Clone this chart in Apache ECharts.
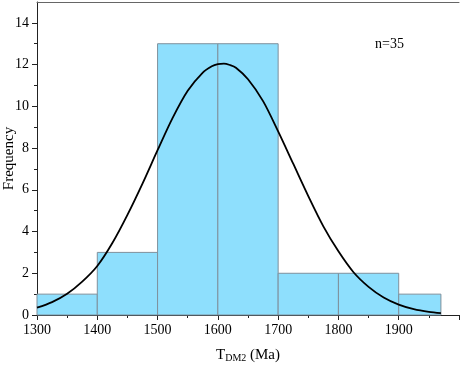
<!DOCTYPE html>
<html>
<head>
<meta charset="utf-8">
<script src="https://cdn.jsdelivr.net/npm/echarts@6/dist/echarts.min.js"></script>
<style>html,body{margin:0;padding:0;background:#fff}#c{width:460px;height:366px}</style>
</head>
<body>
<div id="c"></div>
<script>
// Histogram bins (Ma) and counts
const binStart = [1300, 1400, 1500, 1600, 1700, 1800, 1900];
const binEnd   = [1400, 1500, 1600, 1700, 1800, 1900, 1970];
const counts   = [1, 3, 13, 13, 2, 2, 1];
// Fitted curve
const curveX = [1300,1325,1350,1375,1400,1425,1450,1475,1500,1525,1550,1575,1590,1600,1610,1620,1630,1650,1675,1700,1725,1750,1775,1800,1825,1850,1875,1900,1925,1950,1970];
const curveY = [0.35,0.62,1.02,1.6,2.35,3.45,4.8,6.3,7.9,9.45,10.75,11.62,11.92,12.02,12.05,11.98,11.85,11.3,10.25,8.8,7.25,5.7,4.25,3.05,2.05,1.35,0.84,0.5,0.28,0.15,0.09];
const xTicks = [1300, 1400, 1500, 1600, 1700, 1800, 1900];
const yTicks = [0, 2, 4, 6, 8, 10, 12, 14];
const annotation = 'n=35';

const FONT = "'Liberation Serif','Times New Roman',serif";
const chart = echarts.init(document.getElementById('c'), null, {renderer: 'canvas'});

const histData = binStart.map((s, i) => [s, binEnd[i], counts[i]]);
const curveData = curveX.map((x, i) => [x, curveY[i]]);

chart.setOption({
  animation: false,
  backgroundColor: '#fff',
  title: {
    text: annotation, left: 370, top: 32,
    textStyle: {fontFamily: FONT, fontSize: 14, fontWeight: 'normal', color: '#000'}
  },
  grid: [
    {left: 37, right: 1, top: 2, bottom: 51, containLabel: false, outerBoundsMode: 'none'},
    {left: 37, right: 1, top: 22.87, bottom: 51, containLabel: false, outerBoundsMode: 'none'}
  ],
  xAxis: [
    {
      type: 'value', gridIndex: 0, min: 1300, max: 2000, interval: 100, position: 'bottom',
      axisLine: {show: true, lineStyle: {color: '#222', width: 1}},
      axisTick: {show: true, inside: false, length: 5, lineStyle: {color: '#222'}},
      minorTick: {show: true, splitNumber: 2, length: 3, lineStyle: {color: '#222'}},
      splitLine: {show: false},
      axisLabel: {
        margin: 8, color: '#000', fontFamily: FONT, fontSize: 14,
        formatter: v => xTicks.indexOf(v) >= 0 ? String(v) : ''
      },
      name: '{t|T}{s|DM2}{t| (Ma)}', nameLocation: 'middle', nameGap: 32,
      nameTextStyle: {
        color: '#000', fontFamily: FONT,
        rich: {
          t: {fontFamily: FONT, fontSize: 15, color: '#000'},
          s: {fontFamily: FONT, fontSize: 10, color: '#000', verticalAlign: 'bottom', padding: [6, 0, 0, 0]}
        }
      }
    },
    {
      type: 'value', gridIndex: 0, min: 1300, max: 2000, position: 'top',
      axisLine: {show: true, lineStyle: {color: '#666', width: 1}},
      axisTick: {show: false}, axisLabel: {show: false}, splitLine: {show: false}
    },
    {type: 'value', gridIndex: 1, min: 1300, max: 2000, show: false}
  ],
  yAxis: [
    {
      type: 'value', gridIndex: 0, min: 0, max: 15,
      axisLine: {show: true, lineStyle: {color: '#222', width: 1}},
      axisTick: {show: false}, axisLabel: {show: false}, splitLine: {show: false},
      name: 'Frequency', nameLocation: 'middle', nameGap: 20, nameRotate: 90,
      nameTextStyle: {color: '#000', fontFamily: FONT, fontSize: 15}
    },
    {
      type: 'value', gridIndex: 1, min: 0, max: 14, interval: 2,
      axisLine: {show: false},
      axisTick: {show: true, inside: false, length: 5, lineStyle: {color: '#222'}},
      minorTick: {show: true, splitNumber: 2, length: 3, lineStyle: {color: '#222'}},
      splitLine: {show: false},
      axisLabel: {
        margin: 8, color: '#000', fontFamily: FONT, fontSize: 14,
        formatter: v => yTicks.indexOf(v) >= 0 ? String(v) : ''
      }
    }
  ],
  series: [
    {
      type: 'custom', xAxisIndex: 0, yAxisIndex: 0,
      data: histData,
      encode: {x: [0, 1], y: 2},
      renderItem: function (params, api) {
        const p0 = api.coord([api.value(0), api.value(2)]);
        const p1 = api.coord([api.value(1), 0]);
        return {
          type: 'rect',
          shape: {x: p0[0], y: p0[1], width: p1[0] - p0[0], height: p1[1] - p0[1]},
          style: {fill: '#8EDFFD', stroke: '#7F909C', lineWidth: 1}
        };
      },
      z: 1
    },
    {
      type: 'line', xAxisIndex: 0, yAxisIndex: 0,
      data: curveData, smooth: 0.3, showSymbol: false, symbol: 'none',
      lineStyle: {color: '#000', width: 1.8},
      z: 3
    }
  ]
});
</script>
</body>
</html>
